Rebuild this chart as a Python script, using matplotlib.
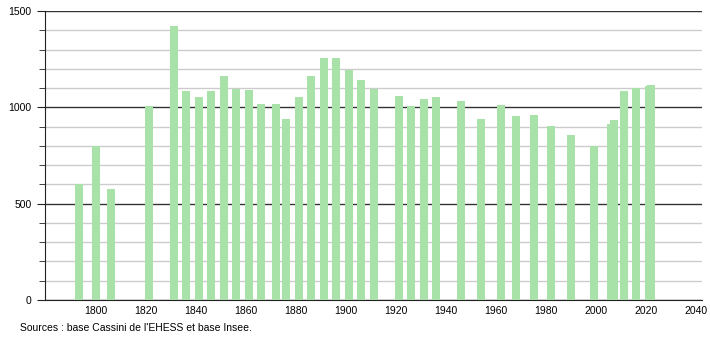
import matplotlib.pyplot as plt
from matplotlib.ticker import MultipleLocator

plt.rcParams['font.family'] = ['Liberation Sans', 'DejaVu Sans']

# années des recensements
annees = [1793, 1800, 1806, 1821, 1831, 1836, 1841, 1846, 1851, 1856,
          1861, 1866, 1872, 1876, 1881, 1886, 1891, 1896, 1901, 1906,
          1911, 1921, 1926, 1931, 1936, 1946, 1954, 1962, 1968, 1975,
          1982, 1990, 1999, 2006, 2007, 2011, 2016, 2021, 2022]
# population
population = [600, 798, 574, 1009, 1420, 1085, 1054, 1085, 1161, 1097,
              1088, 1016, 1016, 940, 1052, 1165, 1258, 1258, 1192, 1144,
              1097, 1061, 1006, 1045, 1054, 1032, 938, 1014, 957, 962,
              902, 855, 798, 916, 933, 1083, 1101, 1112, 1114]

fig = plt.figure(figsize=(7.1, 3.4), dpi=100)
ax = fig.add_axes([45 / 710, 40 / 340, 657 / 710, 289 / 340])

ax.bar(annees, population, width=3.2, color='#a8e2a8', zorder=3)

ax.set_xlim(1779.6, 2042.4)
ax.set_ylim(0, 1500)
ax.set_xticks(range(1800, 2041, 20))
ax.yaxis.set_major_locator(MultipleLocator(500))
ax.yaxis.set_minor_locator(MultipleLocator(100))

# grille : traits foncés tous les 500, clairs tous les 100
ax.grid(which='major', axis='y', color='#333333', linewidth=1, zorder=1)
ax.grid(which='minor', axis='y', color='#cccccc', linewidth=1, zorder=0)

for s in ['top', 'right']:
    ax.spines[s].set_visible(False)
ax.spines['left'].set_color('#222222')
ax.spines['bottom'].set_color('#222222')

ax.tick_params(axis='y', which='major', length=6, labelsize=7.5, color='#222222')
ax.tick_params(axis='y', which='minor', length=4, color='#222222')
ax.tick_params(axis='x', length=0, labelsize=7.5, pad=4)

fig.text(20 / 710, 1 - 328 / 340, "Sources : base Cassini de l'EHESS et base Insee.",
         fontsize=7.5, va='center', ha='left')

fig.savefig('out.png', dpi=100)
